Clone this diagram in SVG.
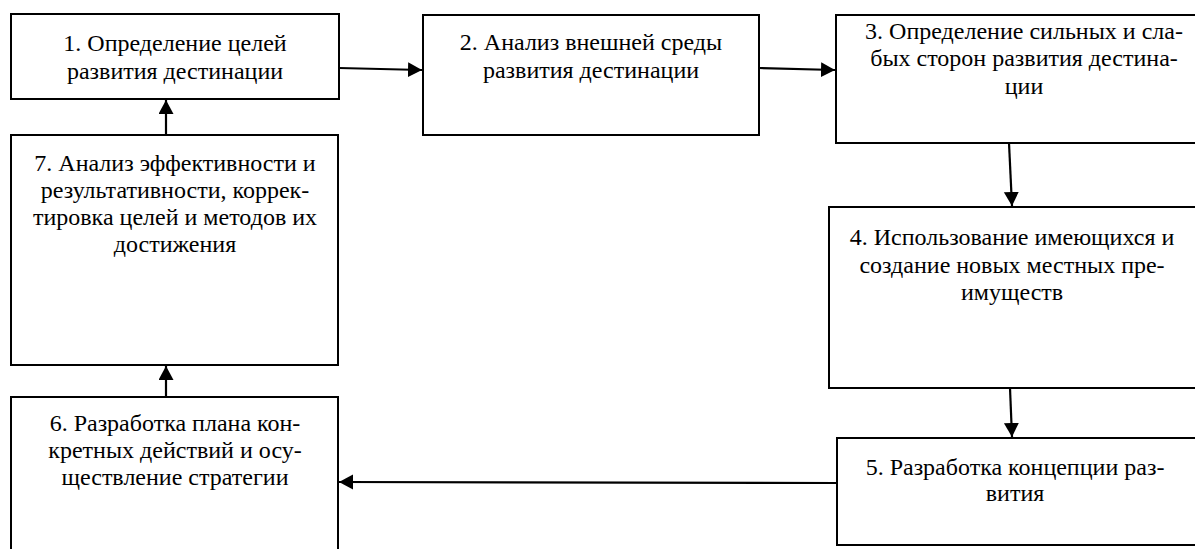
<svg xmlns="http://www.w3.org/2000/svg" width="1195" height="549" viewBox="0 0 1195 549">
<style>
.box{fill:#fff;stroke:#000;stroke-width:2}
.t{font-family:'Liberation Serif','Times New Roman',serif;font-size:24px;fill:#000;text-anchor:middle}
.c{stroke:#000;stroke-width:2.2;fill:none;marker-end:url(#ah)}
</style>
<defs>
<marker id="ah" markerUnits="userSpaceOnUse" markerWidth="15" markerHeight="16" refX="14" refY="7.5" orient="auto">
<path d="M0,0 L14,7.5 L0,15 z" fill="#000"/>
</marker>
</defs>
<g id="n1"><rect class="box" x="11" y="14" width="328" height="85"/>
<text class="t" x="175" y="51">1. Определение целей</text>
<text class="t" x="175" y="79">развития дестинации</text></g>
<g id="n2"><rect class="box" x="423" y="15" width="336" height="120"/>
<text class="t" x="591" y="50">2. Анализ внешней среды</text>
<text class="t" x="591" y="78">развития дестинации</text></g>
<g id="n3"><rect class="box" x="836" y="15" width="370" height="128"/>
<text class="t" x="1024" y="39">3. Определение сильных и сла-</text>
<text class="t" x="1024" y="66">бых сторон развития дестина-</text>
<text class="t" x="1024" y="94">ции</text></g>
<g id="n4"><rect class="box" x="829" y="207" width="377" height="181"/>
<text class="t" x="1012" y="245">4. Использование имеющихся и</text>
<text class="t" x="1012" y="273">создание новых местных пре-</text>
<text class="t" x="1012" y="300">имуществ</text></g>
<g id="n5"><rect class="box" x="837" y="438" width="369" height="107"/>
<text class="t" x="1015" y="475">5. Разработка концепции раз-</text>
<text class="t" x="1015" y="501">вития</text></g>
<g id="n6"><rect class="box" x="11" y="397" width="327" height="170"/>
<text class="t" x="175" y="431">6. Разработка плана кон-</text>
<text class="t" x="175" y="458">кретных действий и осу-</text>
<text class="t" x="175" y="485">ществление стратегии</text></g>
<g id="n7"><rect class="box" x="11" y="135" width="327" height="230"/>
<text class="t" x="175" y="171">7. Анализ эффективности и</text>
<text class="t" x="175" y="198">результативности, коррек-</text>
<text class="t" x="175" y="225">тировка целей и методов их</text>
<text class="t" x="175" y="252">достижения</text></g>
<g id="connectors">
<path class="c" d="M339,68 L422,70"/>
<path class="c" d="M759,68 L835,70"/>
<path class="c" d="M1009,143 L1012,206"/>
<path class="c" d="M1010,388 L1012,437"/>
<path class="c" d="M836,483 L339,482"/>
<path class="c" d="M166,397 L166,366"/>
<path class="c" d="M166,135 L166,100"/>
</g>
</svg>
